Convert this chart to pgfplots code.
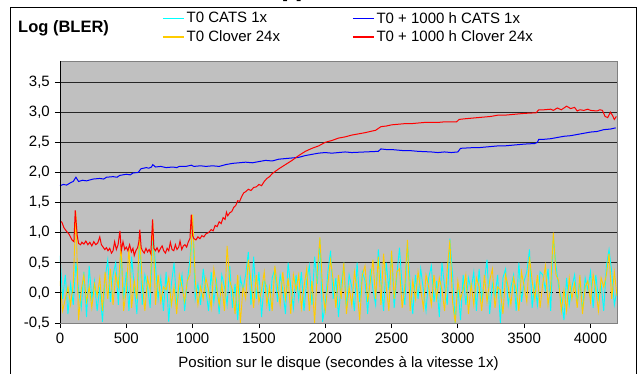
\documentclass[border=0pt]{standalone}
\usepackage{pgfplots}
\pgfplotsset{compat=1.18}
\usepackage{fontspec}
\setmainfont{Liberation Sans}
\definecolor{plotgray}{HTML}{C0C0C0}
\definecolor{cyanl}{HTML}{00FFFF}
\definecolor{goldl}{HTML}{FFCC00}
\begin{document}
\fontsize{15bp}{18bp}\selectfont
\begin{tikzpicture}
\useasboundingbox (-60bp,-51bp) rectangle (579bp,323bp);
\draw[line width=1bp] (-49bp,-70bp) rectangle (576bp,315bp);
\node[anchor=base,font=\bfseries] at (292bp-60bp,324bp) {[b]};
\node[anchor=west,font=\bfseries\fontsize{16.5bp}{18bp}\selectfont] at (-47bp,295bp) {Log (BLER)};
\begin{axis}[
  at={(0,0)}, anchor=south west,
  scale only axis, width=557bp, height=262bp,
  xmin=0, xmax=4200, ymin=-0.5, ymax=3.85,
  axis background/.style={fill=plotgray},
  axis line style={draw=black!50, line width=0.8bp},
  xtick={0,500,...,4000},
  ytick={-0.5,0.5,1,1.5,2,2.5,3,3.5},
  extra y ticks={0},
  extra y tick style={major grid style={black, dashed, line width=0.8bp}},
  ymajorgrids,
  major grid style={black!85, line width=0.8bp},
  tick align=outside, major tick length=5bp,
  xtick pos=bottom, ytick pos=left,
  tick style={black, line width=0.8bp},
  /pgf/number format/assume math mode=true,
  yticklabel={\pgfmathprintnumber[fixed,fixed zerofill,precision=1,use comma]{\tick}},
  xticklabel={\pgfmathprintnumber[fixed,precision=0,1000 sep={}]{\tick}},
  legend columns=2, transpose legend,
  legend cell align=left,
  legend style={draw=none, fill=none, at={(0.1831,1.1947)}, anchor=north west,
    inner sep=0pt, row sep=1bp,
    /tikz/every even column/.append style={column sep=70bp}},
  legend image code/.code={\draw[#1, line width=1.5bp] (0bp,0bp) -- (21bp,0bp);},
]
\addplot[cyanl, line width=0.9bp] coordinates {
(0,0.62)(20,-0.1)(40,0.3)(60,-0.35)(80,0.15)(100,-0.2)(120,0.5)(140,0.05)(160,-0.25)(180,0.35)
(200,-0.4)(220,0.45)(240,-0.1)(260,0.2)(280,-0.3)(300,0.1)(320,-0.48)(340,0.25)(360,0.55)(380,-0.15)
(400,0.3)(420,0.5)(440,-0.2)(460,0.75)(480,-0.1)(500,0.35)(520,-0.3)(540,0.6)(560,0.1)(580,-0.35)
(600,0.95)(620,-0.2)(640,0.3)(660,0.1)(680,-0.25)(700,1.05)(720,0.45)(740,-0.1)(760,0.25)(780,-0.3)
(800,0.35)(820,-0.48)(840,0.15)(860,0.5)(880,-0.2)(900,0.05)(920,0.3)(940,-0.3)(960,0.2)(980,0.55)
(1000,1.2)(1020,-0.1)(1040,0.15)(1060,-0.2)(1080,0.4)(1100,0.05)(1120,-0.3)(1140,0.35)(1160,-0.15)(1180,0.2)
(1200,-0.35)(1220,0.3)(1240,0.1)(1260,-0.2)(1280,0.45)(1300,-0.25)(1320,0.15)(1340,-0.45)(1360,0.25)(1380,0.05)
(1400,0.3)(1420,0.68)(1440,-0.2)(1460,0.6)(1480,-0.1)(1500,0.35)(1520,-0.4)(1540,0.2)(1560,0.1)(1580,-0.3)
(1600,0.25)(1620,0.4)(1640,-0.15)(1660,0.3)(1680,0.05)(1700,-0.35)(1720,0.5)(1740,0.1)(1760,-0.25)(1780,0.3)
(1800,-0.1)(1820,0.35)(1840,-0.3)(1860,0.2)(1880,0.45)(1900,-0.2)(1920,0.6)(1940,0.15)(1960,0.9)(1980,-0.48)
(2000,-0.2)(2020,0.35)(2040,0.7)(2060,-0.1)(2080,0.25)(2100,-0.4)(2120,0.15)(2140,0.45)(2160,-0.25)(2180,0.3)
(2200,0.1)(2220,-0.3)(2240,0.5)(2260,-0.15)(2280,0.35)(2300,0.2)(2320,-0.35)(2340,0.4)(2360,0.05)(2380,-0.2)
(2400,0.72)(2420,0.2)(2440,-0.3)(2460,0.5)(2480,0.05)(2500,0.68)(2520,-0.25)(2540,0.3)(2560,0.75)(2580,0.1)
(2600,-0.2)(2620,0.85)(2640,0.15)(2660,-0.35)(2680,0.3)(2700,-0.1)(2720,0.4)(2740,0.05)(2760,-0.3)(2780,0.25)
(2800,0.45)(2820,-0.15)(2840,0.2)(2860,-0.4)(2880,0.5)(2900,0.1)(2920,-0.2)(2940,0.9)(2960,0.3)(2980,-0.5)
(3000,0.1)(3020,-0.45)(3040,0.3)(3060,-0.2)(3080,0.25)(3100,0.05)(3120,0.35)(3140,-0.3)(3160,0.4)(3180,-0.1)
(3200,0.2)(3220,0.55)(3240,-0.35)(3260,0.15)(3280,-0.05)(3300,0.3)(3320,-0.5)(3340,0.25)(3360,0.4)(3380,-0.2)
(3400,0.1)(3420,0.3)(3440,-0.3)(3460,0.5)(3480,-0.15)(3500,0.2)(3520,0.35)(3540,0.72)(3560,-0.25)(3580,0.15)
(3600,-0.2)(3620,0.35)(3640,0.3)(3660,0.05)(3680,0.4)(3700,-0.3)(3720,0.95)(3740,0.45)(3760,0.1)(3780,-0.1)
(3800,-0.45)(3820,0.25)(3840,-0.2)(3860,0.1)(3880,0.3)(3900,-0.15)(3920,0.2)(3940,-0.3)(3960,0.25)(3980,0.05)
(4000,0.35)(4020,-0.25)(4040,0.3)(4060,-0.1)(4080,0.15)(4100,-0.3)(4120,0.45)(4140,0.72)(4160,0.35)(4180,-0.2)
(4200,0.05)};
\addlegendentry{T0 CATS 1x}
\addplot[goldl, line width=0.9bp] coordinates {
(0,0.2)(20,-0.3)(40,-0.1)(60,0.1)(80,-0.2)(100,0.15)(120,1.35)(140,-0.45)(160,0.05)(180,0.3)
(200,-0.15)(220,0.1)(240,-0.25)(260,0.15)(280,-0.05)(300,0.25)(320,-0.3)(340,0.35)(360,-0.1)(380,0.4)
(400,-0.2)(420,0.3)(440,0.1)(460,0.8)(480,-0.3)(500,0.05)(520,0.75)(540,-0.25)(560,0.2)(580,-0.1)
(600,1.0)(620,0.15)(640,-0.3)(660,0.25)(680,0.05)(700,1.2)(720,-0.2)(740,0.3)(760,-0.15)(780,0.1)
(800,0.05)(820,0.25)(840,-0.2)(860,0.1)(880,-0.35)(900,0.3)(920,0.1)(940,-0.15)(960,0.2)(980,0.3)
(1000,1.3)(1020,0.2)(1040,-0.2)(1060,0.1)(1080,-0.1)(1100,0.25)(1120,0.05)(1140,-0.25)(1160,0.4)(1180,0.1)
(1200,-0.2)(1220,0.15)(1240,-0.3)(1260,0.78)(1280,0.2)(1300,0.05)(1320,-0.35)(1340,0.3)(1360,-0.5)(1380,0.1)
(1400,-0.1)(1420,0.55)(1440,0.2)(1460,-0.25)(1480,0.3)(1500,-0.15)(1520,0.05)(1540,0.35)(1560,-0.2)(1580,0.1)
(1600,-0.3)(1620,0.45)(1640,0.1)(1660,-0.2)(1680,0.35)(1700,-0.1)(1720,0.25)(1740,-0.35)(1760,0.3)(1780,0.05)
(1800,0.3)(1820,-0.25)(1840,0.1)(1860,0.4)(1880,-0.3)(1900,0.2)(1920,-0.5)(1940,0.35)(1960,0.92)(1980,0.05)
(2000,-0.3)(2020,0.15)(2040,0.55)(2060,0.2)(2080,-0.25)(2100,0.3)(2120,-0.1)(2140,0.5)(2160,-0.35)(2180,0.1)
(2200,-0.2)(2220,0.35)(2240,0.05)(2260,-0.45)(2280,0.3)(2300,0.45)(2320,-0.15)(2340,0.2)(2360,0.55)(2380,-0.1)
(2400,0.6)(2420,-0.2)(2440,0.65)(2460,0.1)(2480,-0.3)(2500,0.7)(2520,-0.1)(2540,0.35)(2560,0.4)(2580,-0.25)
(2600,0.1)(2620,0.88)(2640,-0.3)(2660,0.2)(2680,-0.1)(2700,0.35)(2720,0.05)(2740,-0.25)(2760,0.3)(2780,0.1)
(2800,-0.2)(2820,0.3)(2840,-0.1)(2860,0.25)(2880,0.05)(2900,-0.3)(2920,0.4)(2940,0.88)(2960,-0.15)(2980,-0.5)
(3000,0.2)(3020,-0.1)(3040,0.05)(3060,0.3)(3080,-0.35)(3100,0.15)(3120,-0.2)(3140,0.25)(3160,0.1)(3180,-0.3)
(3200,0.3)(3220,-0.15)(3240,0.2)(3260,0.4)(3280,-0.25)(3300,0.1)(3320,0.05)(3340,-0.35)(3360,0.3)(3380,0.1)
(3400,-0.2)(3420,0.25)(3440,0.05)(3460,-0.3)(3480,0.35)(3500,0.1)(3520,-0.15)(3540,0.6)(3560,0.2)(3580,-0.1)
(3600,0.3)(3620,-0.25)(3640,0.15)(3660,0.45)(3680,-0.2)(3700,0.1)(3720,1.0)(3740,0.3)(3760,0.2)(3780,-0.3)
(3800,0.05)(3820,-0.3)(3840,0.25)(3860,-0.1)(3880,0.15)(3900,-0.25)(3920,0.3)(3940,-0.35)(3960,0.1)(3980,0.2)
(4000,-0.15)(4020,0.3)(4040,0.05)(4060,-0.3)(4080,0.25)(4100,0.1)(4120,0.3)(4140,0.65)(4160,-0.1)(4180,0.35)
(4200,-0.05)};
\addlegendentry{T0 Clover 24x}
\addplot[blue, line width=1bp] coordinates {
(0,1.78)(25,1.8)(50,1.79)(80,1.83)(100,1.85)(120,1.92)(140,1.85)(170,1.87)(200,1.86)(250,1.89)
(300,1.9)(330,1.89)(350,1.92)(400,1.93)(430,1.92)(450,1.95)(500,1.97)(530,1.96)(550,1.99)(590,2.0)(610,2.06)(650,2.08)(670,2.07)(690,2.09)
(700,2.13)(720,2.09)(760,2.1)(800,2.08)(850,2.09)(880,2.08)(900,2.1)(950,2.1)(990,2.12)(1010,2.1)(1060,2.11)(1100,2.1)(1150,2.11)(1200,2.1)
(1250,2.13)(1300,2.15)(1350,2.16)(1400,2.17)(1450,2.16)(1500,2.18)(1550,2.2)(1600,2.19)(1650,2.22)(1700,2.23)(1750,2.24)(1800,2.25)(1850,2.28)(1900,2.3)
(1950,2.32)(2000,2.33)(2050,2.32)(2100,2.33)(2150,2.34)(2200,2.33)(2300,2.34)(2400,2.35)(2420,2.39)(2460,2.38)(2500,2.38)(2550,2.37)(2600,2.36)(2650,2.36)(2700,2.35)
(2800,2.34)(2850,2.33)(2900,2.34)(2950,2.33)(3000,2.34)(3020,2.4)(3100,2.41)(3150,2.41)(3200,2.42)(3250,2.43)(3300,2.44)(3350,2.44)(3400,2.45)(3450,2.46)(3500,2.47)
(3580,2.48)(3600,2.5)(3610,2.55)(3650,2.55)(3700,2.56)(3750,2.58)(3800,2.6)(3850,2.61)(3900,2.63)(3950,2.65)(4000,2.67)(4050,2.68)(4100,2.71)(4150,2.72)(4190,2.74)};
\addlegendentry{T0 + 1000 h CATS 1x}
\addplot[red, line width=1bp] coordinates {
(0,1.2)(15,1.17)(30,1.08)(50,1.02)(70,0.97)(90,0.88)(105,0.85)(115,1.37)(130,0.95)(140,0.82)
(155,0.8)(165,0.84)(180,0.81)(195,0.86)(210,0.8)(225,0.84)(240,0.78)(255,0.85)(270,0.8)(285,0.83)
(300,0.93)(312,0.8)(325,0.76)(338,0.72)(350,0.75)(362,0.7)(375,0.74)(388,0.66)(400,0.7)(412,0.85)
(425,0.72)(438,0.8)(452,1.03)(462,0.7)(475,0.85)(488,0.72)(500,0.76)(512,0.7)(525,0.8)(538,0.68)
(550,0.74)(560,0.62)(572,0.7)(585,0.75)(595,0.85)(602,1.05)(612,0.75)(622,0.7)(635,0.66)(648,0.74)
(660,0.68)(672,0.72)(685,0.65)(698,1.22)(708,0.74)(720,0.7)(732,0.75)(745,0.68)(758,0.74)(770,0.78)
(782,0.7)(795,0.66)(808,0.74)(820,0.7)(832,0.84)(845,0.72)(858,0.7)(870,0.8)(882,0.72)(895,0.76)
(905,0.86)(918,0.72)(930,0.78)(942,0.8)(955,0.76)(968,0.85)(980,0.9)(990,1.3)(1000,0.95)
(1010,0.9)(1025,0.88)(1040,0.93)(1055,0.9)(1070,0.95)(1085,0.93)(1100,0.98)(1120,1.0)(1140,1.05)(1155,1.03)
(1170,1.12)(1185,1.1)(1200,1.18)(1215,1.15)(1230,1.25)(1245,1.22)(1255,1.34)(1265,1.28)(1280,1.33)(1295,1.35)
(1310,1.42)(1325,1.45)(1340,1.53)(1355,1.52)(1370,1.6)(1385,1.66)(1400,1.68)(1420,1.72)(1440,1.7)(1460,1.75)
(1480,1.76)(1500,1.8)(1520,1.78)(1540,1.85)(1560,1.9)(1580,1.93)(1600,1.98)
(1650,2.06)(1700,2.13)(1750,2.2)(1800,2.28)(1850,2.35)(1900,2.4)(1950,2.44)(2000,2.5)(2050,2.53)(2100,2.57)(2150,2.59)(2200,2.62)(2250,2.64)
(2300,2.66)(2380,2.7)(2420,2.76)(2460,2.77)(2500,2.79)(2550,2.8)(2600,2.81)(2650,2.81)(2700,2.82)(2750,2.83)(2800,2.83)(2850,2.83)(2900,2.84)(2990,2.84)(3010,2.88)
(3050,2.89)(3100,2.9)(3150,2.91)(3200,2.92)(3250,2.93)(3300,2.95)(3350,2.95)(3400,2.96)(3450,2.97)(3500,2.98)(3590,2.99)(3610,3.04)(3650,3.04)(3700,3.05)(3720,3.03)(3750,3.07)(3780,3.04)
(3820,3.1)(3850,3.06)(3880,3.08)(3900,3.02)(3920,3.04)(3950,3.03)(3980,3.05)(4000,3.03)(4050,3.02)(4070,3.04)(4090,3.03)(4110,2.93)(4130,2.91)
(4150,3.0)(4165,2.95)(4180,2.88)(4195,2.93)};
\addlegendentry{T0 + 1000 h Clover 24x}
\draw[black, line width=0.8bp] (rel axis cs:0,1) -- (rel axis cs:0,0) -- (rel axis cs:1,0);
\end{axis}
\node at (278.5bp,-41bp) {Position sur le disque (secondes à la vitesse 1x)};
\end{tikzpicture}
\end{document}
